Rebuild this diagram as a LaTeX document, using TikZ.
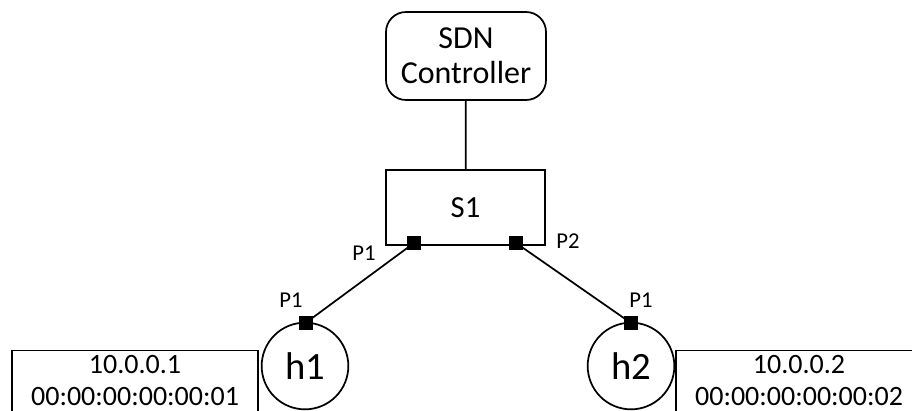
\documentclass[tikz,border=0pt]{standalone}
\usepackage{fontspec}
\setmainfont{Carlito}
\usepackage{tikz}
\usetikzlibrary{shapes,positioning}
\tikzstyle{controller}=[draw,rounded corners=15pt,minimum width=120pt,minimum height=66pt,align=center,font=\fontsize{24}{26}\selectfont]
\tikzstyle{switch}=[draw,minimum width=119pt,minimum height=56pt,font=\fontsize{23}{26}\selectfont]
\tikzstyle{host}=[circle,draw,minimum size=65pt,inner sep=0pt,font=\fontsize{29}{32}\selectfont]
\tikzstyle{port}=[rectangle,fill=black,minimum size=10.5pt,inner sep=0pt]
\tikzstyle{addr}=[draw,anchor=north,minimum width=185pt,inner ysep=3.5pt,text depth=20pt,align=center,font=\fontsize{21}{24}\selectfont]
\tikzstyle{portname}=[font=\fontsize{17}{18}\selectfont]
\tikzstyle{edge} = [draw,line width=1.3pt,-]

\begin{document}
\begin{tikzpicture}[x=0.75pt,y=-0.75pt,line width=1.3pt]
\useasboundingbox (0,0) rectangle (912,410);
\clip (0,0) rectangle (912,410);

% First we draw the controller and the switch
\node[controller] (ctrl) at (466,56) {SDN\\Controller};
\node[switch] (s1) at (465.5,207.5) {S1};

% Hosts and their addresses
\node[host] (h1) at (305,366) {h1};
\node[host] (h2) at (631,366) {h2};
\node[addr] (mac1) at (135,349.5) {10.0.0.1\\00:00:00:00:00:01};
\node[addr] (mac2) at (799,349.5) {10.0.0.2\\00:00:00:00:00:02};

% Connect controller and switch
\path[edge] (ctrl) -- (s1);

% Then the ports
\foreach \pos / \name in {{(414,243)/s1p1},
{(516,243)/s1p2},
{(305.5,323)/h1p},
{(631,323)/h2p}}
\node[port] (\name) at \pos {};

% Links between the ports
\foreach \source/ \dest in {s1p1/h1p,s1p2/h2p}
\path[edge] (\source.center) -- (\dest.center);

% Port names
\node[portname] (ls1p1) at (364,253) {P1};
\node[portname] (ls1p2) at (568,241) {P2};
\node[portname] (lh1p) at (291,300) {P1};
\node[portname] (lh2p) at (641,300) {P1};

\end{tikzpicture}
\end{document}
